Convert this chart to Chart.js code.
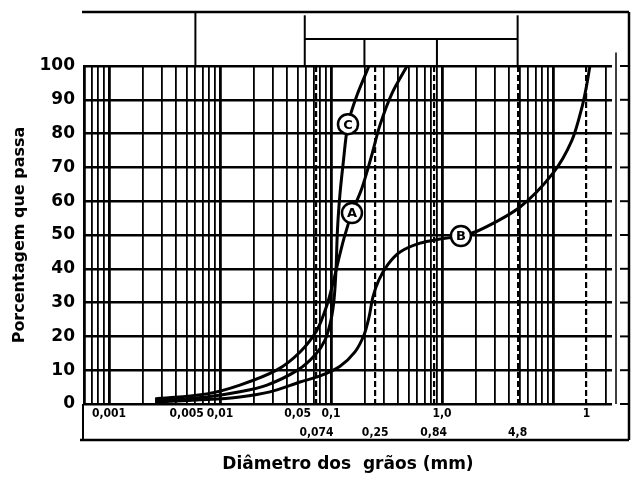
<!DOCTYPE html>
<html><head><meta charset="utf-8">
<script src="https://cdn.jsdelivr.net/npm/chart.js@4.4.1/dist/chart.umd.min.js"></script>
<style>html,body{margin:0;padding:0;background:#fff}#wrap{width:636px;height:477px;position:relative}</style>
</head><body><div id="wrap"><canvas id="c"></canvas></div>
<script>
// ---- data (grain diameter in mm, % passing) ----
const curveA_x = [0.0026,0.0076,0.0151,0.0326,0.0526,0.0748,0.092,0.1042,0.1156,0.131,0.1544,0.19,0.229,0.276,0.355,0.484];
const curveA_y = [1.5,3.0,5.6,10.1,15.4,21.9,29.3,35.8,42,49.1,56.5,63.9,72.8,82.5,92,100];
const curveB_x = [0.0026,0.0076,0.0151,0.0282,0.0526,0.0796,0.1206,0.1644,0.198,0.22,0.2387,0.270,0.327,0.419,0.634,0.959,1.48,2.2,5.05,10,14.8,18.3,20.2,21.5];
const curveB_y = [0.6,1.3,2.1,3.6,6.5,8.3,11.2,15.4,20.4,25.7,31.7,36.7,41.4,45,47.6,48.8,49.7,51.5,58.3,68.3,78,88,94.7,100];
const curveC_x = [0.0026,0.0076,0.0151,0.0265,0.0504,0.0718,0.0883,0.1,0.1064,0.1109,0.1133,0.1156,0.1206,0.1282,0.1422,0.1716,0.22];
const curveC_y = [0.9,2.1,3.6,5.6,10.1,14.5,18.9,24.9,30.8,39.6,48.5,54.4,62.4,70.7,82.8,91.4,100];
const markerText = ['C','A','B'];
const markerX = [0.1422,0.1544,1.48];
const markerY = [82.8,56.5,49.7];
const xTickValues = [0.001,0.005,0.01,0.05,0.1,1,20];
const xTickLabels = ['0,001','0,005','0,01','0,05','0,1','1,0','1'];
const sieveValues = [0.074,0.25,0.84,4.8,20];
const sieveLabels = ['0,074','0,25','0,84','4,8',''];
const soilBoundaries = [0.006,0.058,0.2,0.9,4.8];
const yTickValues = [0,10,20,30,40,50,60,70,80,90,100];
const xMin = 0.000595, xMax = 34;

const gridVals = [];
for (let e = -4; e <= 1; e++) for (let k = 1; k <= 9; k++) {
  const v = +(k * Math.pow(10, e)).toPrecision(6);
  if (v >= xMin && v <= xMax) gridVals.push(v);
}
const isIn = (v, arr) => arr.some(t => Math.abs(t - v) / t < 1e-6);
function labelFor(v, vals, labels) {
  const i = vals.findIndex(t => Math.abs(t - v) / t < 1e-6);
  return i < 0 ? '' : labels[i];
}
const pts = (xs, ys) => xs.map((x, i) => ({x, y: ys[i]}));
const tickFont = {family: "'Liberation Sans Narrow','DejaVu Sans Condensed',sans-serif", size: 12, weight: 'bold'};

const decor = {
  id: 'decor',
  afterDraw(chart) {
    const ctx = chart.ctx, xs = chart.scales.x, ys = chart.scales.y, x2 = chart.scales.x2;
    const ca = chart.chartArea;
    const px = v => xs.getPixelForValue(v), py = v => ys.getPixelForValue(v);
    const line = (a, b, c, d, w) => { ctx.lineWidth = w; ctx.beginPath(); ctx.moveTo(a, b); ctx.lineTo(c, d); ctx.stroke(); };
    ctx.save(); ctx.strokeStyle = '#000';
    const rightX = ca.right + 17, bottomY = x2.top + 18, topY = py(116);
    line(ca.left - 2, topY, rightX, topY, 2.5);
    line(rightX, topY, rightX, bottomY, 2.5);
    line(ca.left - 4, bottomY, rightX, bottomY, 2.5);
    line(ca.left - 1, ca.bottom, ca.left - 1, bottomY, 2);
    line(ca.right + 4, py(104), ca.right + 4, py(0), 1.5);
    yTickValues.forEach(v => line(ca.right + 8, py(v), rightX, py(v), 2));
    // header: soil classification bracket
    const [b0, b1, b2, b3, b4] = soilBoundaries;
    line(px(b0), topY, px(b0), ca.top, 2);
    line(px(b1), py(115), px(b1), ca.top, 2);
    line(px(b4), py(115), px(b4), ca.top, 2);
    line(px(b1), py(108), px(b4), py(108), 2);
    line(px(b2), py(108), px(b2), ca.top, 2);
    line(px(b3), py(108), px(b3), ca.top, 2);
    ctx.restore();
  },
  afterDatasetsDraw(chart) {
    const ctx = chart.ctx;
    const meta = chart.getDatasetMeta(3);
    ctx.save();
    ctx.fillStyle = '#000';
    ctx.font = "bold 13px 'DejaVu Sans', sans-serif";
    ctx.textAlign = 'center'; ctx.textBaseline = 'middle';
    meta.data.forEach((p, i) => ctx.fillText(markerText[i], p.x, p.y + 1));
    ctx.restore();
  }
};

const lineStyle = {showLine: true, borderColor: '#000', borderWidth: 3, pointRadius: 0, tension: 0.3, fill: false};
new Chart(document.getElementById('c'), {
  type: 'scatter',
  data: {datasets: [
    {label: 'A', data: pts(curveA_x, curveA_y), ...lineStyle},
    {label: 'B', data: pts(curveB_x, curveB_y), ...lineStyle},
    {label: 'C', data: pts(curveC_x, curveC_y), ...lineStyle},
    {label: 'markers', data: pts(markerX, markerY), order: -1, pointRadius: 10, pointBackgroundColor: '#fff', pointBorderColor: '#000', pointBorderWidth: 2.5, showLine: false}
  ]},
  options: {
    responsive: true, maintainAspectRatio: false, animation: false, devicePixelRatio: 1,
    layout: {padding: {top: 66, right: 24, left: 0, bottom: 0}},
    plugins: {legend: {display: false}, tooltip: {enabled: false}},
    scales: {
      x: {
        type: 'logarithmic', position: 'bottom', min: xMin, max: xMax, weight: 0,
        afterBuildTicks: s => { s.ticks = gridVals.map(v => ({value: v})); },
        afterFit: s => { s.height = 18; },
        grid: {
          color: c => (c.tick && isIn(c.tick.value, sieveValues) ? 'rgba(0,0,0,0)' : '#000'),
          lineWidth: c => (c.tick && Math.abs(Math.log10(c.tick.value) - Math.round(Math.log10(c.tick.value))) < 1e-6 ? 2.8 : 1.8),
          drawTicks: false},
        border: {display: false},
        ticks: {autoSkip: false, maxRotation: 0, minRotation: 0, padding: 3, color: '#000', font: tickFont,
          callback: v => labelFor(v, xTickValues, xTickLabels)}
      },
      x2: {
        type: 'logarithmic', position: 'bottom', min: xMin, max: xMax, weight: 1,
        afterBuildTicks: s => { s.ticks = sieveValues.map(v => ({value: v})); },
        afterFit: s => { s.height = 55; },
        grid: {color: '#000', lineWidth: 2.2, drawTicks: false},
        border: {display: false, dash: [6, 3]},
        ticks: {autoSkip: false, maxRotation: 0, minRotation: 0, padding: 4, color: '#000', font: tickFont,
          callback: v => labelFor(v, sieveValues, sieveLabels)},
        title: {display: true, text: 'Diâmetro dos  grãos (mm)', color: '#000',
          font: {family: "'DejaVu Sans', sans-serif", size: 17, weight: 'bold'}, padding: {top: 0, bottom: 2}}
      },
      y: {
        min: 0, max: 100, weight: 0,
        afterBuildTicks: s => { s.ticks = yTickValues.map(v => ({value: v})); },
        afterFit: s => { s.width = 84; },
        grid: {color: '#000', lineWidth: 2.5, drawTicks: false},
        border: {display: true, color: '#000', width: 2},
        ticks: {padding: 9, color: '#000', font: {family: "'DejaVu Sans', sans-serif", size: 17, weight: 'bold'}},
        title: {display: true, text: 'Porcentagem que passa', color: '#000',
          font: {family: "'DejaVu Sans', sans-serif", size: 16, weight: 'bold'}, padding: {top: 10, bottom: 0}}
      }
    }
  },
  plugins: [decor]
});
</script></body></html>
